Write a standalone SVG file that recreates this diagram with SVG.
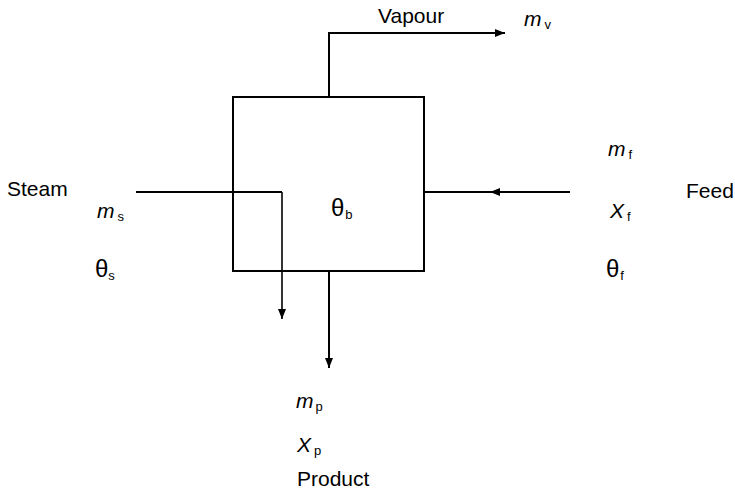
<svg xmlns="http://www.w3.org/2000/svg" width="735" height="492" viewBox="0 0 735 492">
<style>
text{font-family:"Liberation Sans",Arial,sans-serif;font-size:21px;fill:#000}
.i{font-style:italic}
.th{font-size:24px}
.sub{font-size:13px;font-style:normal}
.ln{fill:none;stroke:#000;stroke-width:2}
.thin{fill:none;stroke:#000;stroke-width:1.6}
</style>
<defs>
<marker id="ah" viewBox="0 0 10 10" refX="10" refY="5" markerWidth="10" markerHeight="10" markerUnits="userSpaceOnUse" orient="auto">
<path d="M0,1 L10,5 L0,9 z" fill="#000"/>
</marker>
</defs>
<rect width="735" height="492" fill="#fff"/>
<g id="evaporator">
<rect x="233" y="97" width="191" height="174" class="ln"/>
<text x="331" y="216" class="th">θ<tspan class="sub" dx="1" dy="3">b</tspan></text>
</g>
<g id="connectors">
<path d="M329,97 V33 H505" class="ln" marker-end="url(#ah)"/>
<path d="M136,192 H282" class="ln"/>
<path d="M282,192 V319" class="thin" marker-end="url(#ah)"/>
<path d="M570,192 H424" class="ln"/>
<path d="M570,192 H490" class="ln" marker-end="url(#ah)"/>
<path d="M329,272 V368" class="ln" marker-end="url(#ah)"/>
</g>
<g id="vapour">
<text x="378" y="23">Vapour</text>
<text x="524" y="26" class="i">m<tspan class="sub" dx="3" dy="3">v</tspan></text>
</g>
<g id="steam">
<text x="7" y="196">Steam</text>
<text x="97" y="218" class="i">m<tspan class="sub" dx="3" dy="3">s</tspan></text>
<text x="95" y="277" class="th">θ<tspan class="sub" dx="0" dy="3">s</tspan></text>
</g>
<g id="feed">
<text x="608" y="156" class="i">m<tspan class="sub" dx="3" dy="3">f</tspan></text>
<text x="610" y="218" class="i">X<tspan class="sub" dx="3" dy="3">f</tspan></text>
<text x="606" y="277" class="th">θ<tspan class="sub" dx="1" dy="3">f</tspan></text>
<text x="686" y="198">Feed</text>
</g>
<g id="product">
<text x="296" y="408" class="i">m<tspan class="sub" dx="2" dy="3">p</tspan></text>
<text x="297" y="452" class="i">X<tspan class="sub" dx="3" dy="3">p</tspan></text>
<text x="297" y="486">Product</text>
</g>
</svg>
